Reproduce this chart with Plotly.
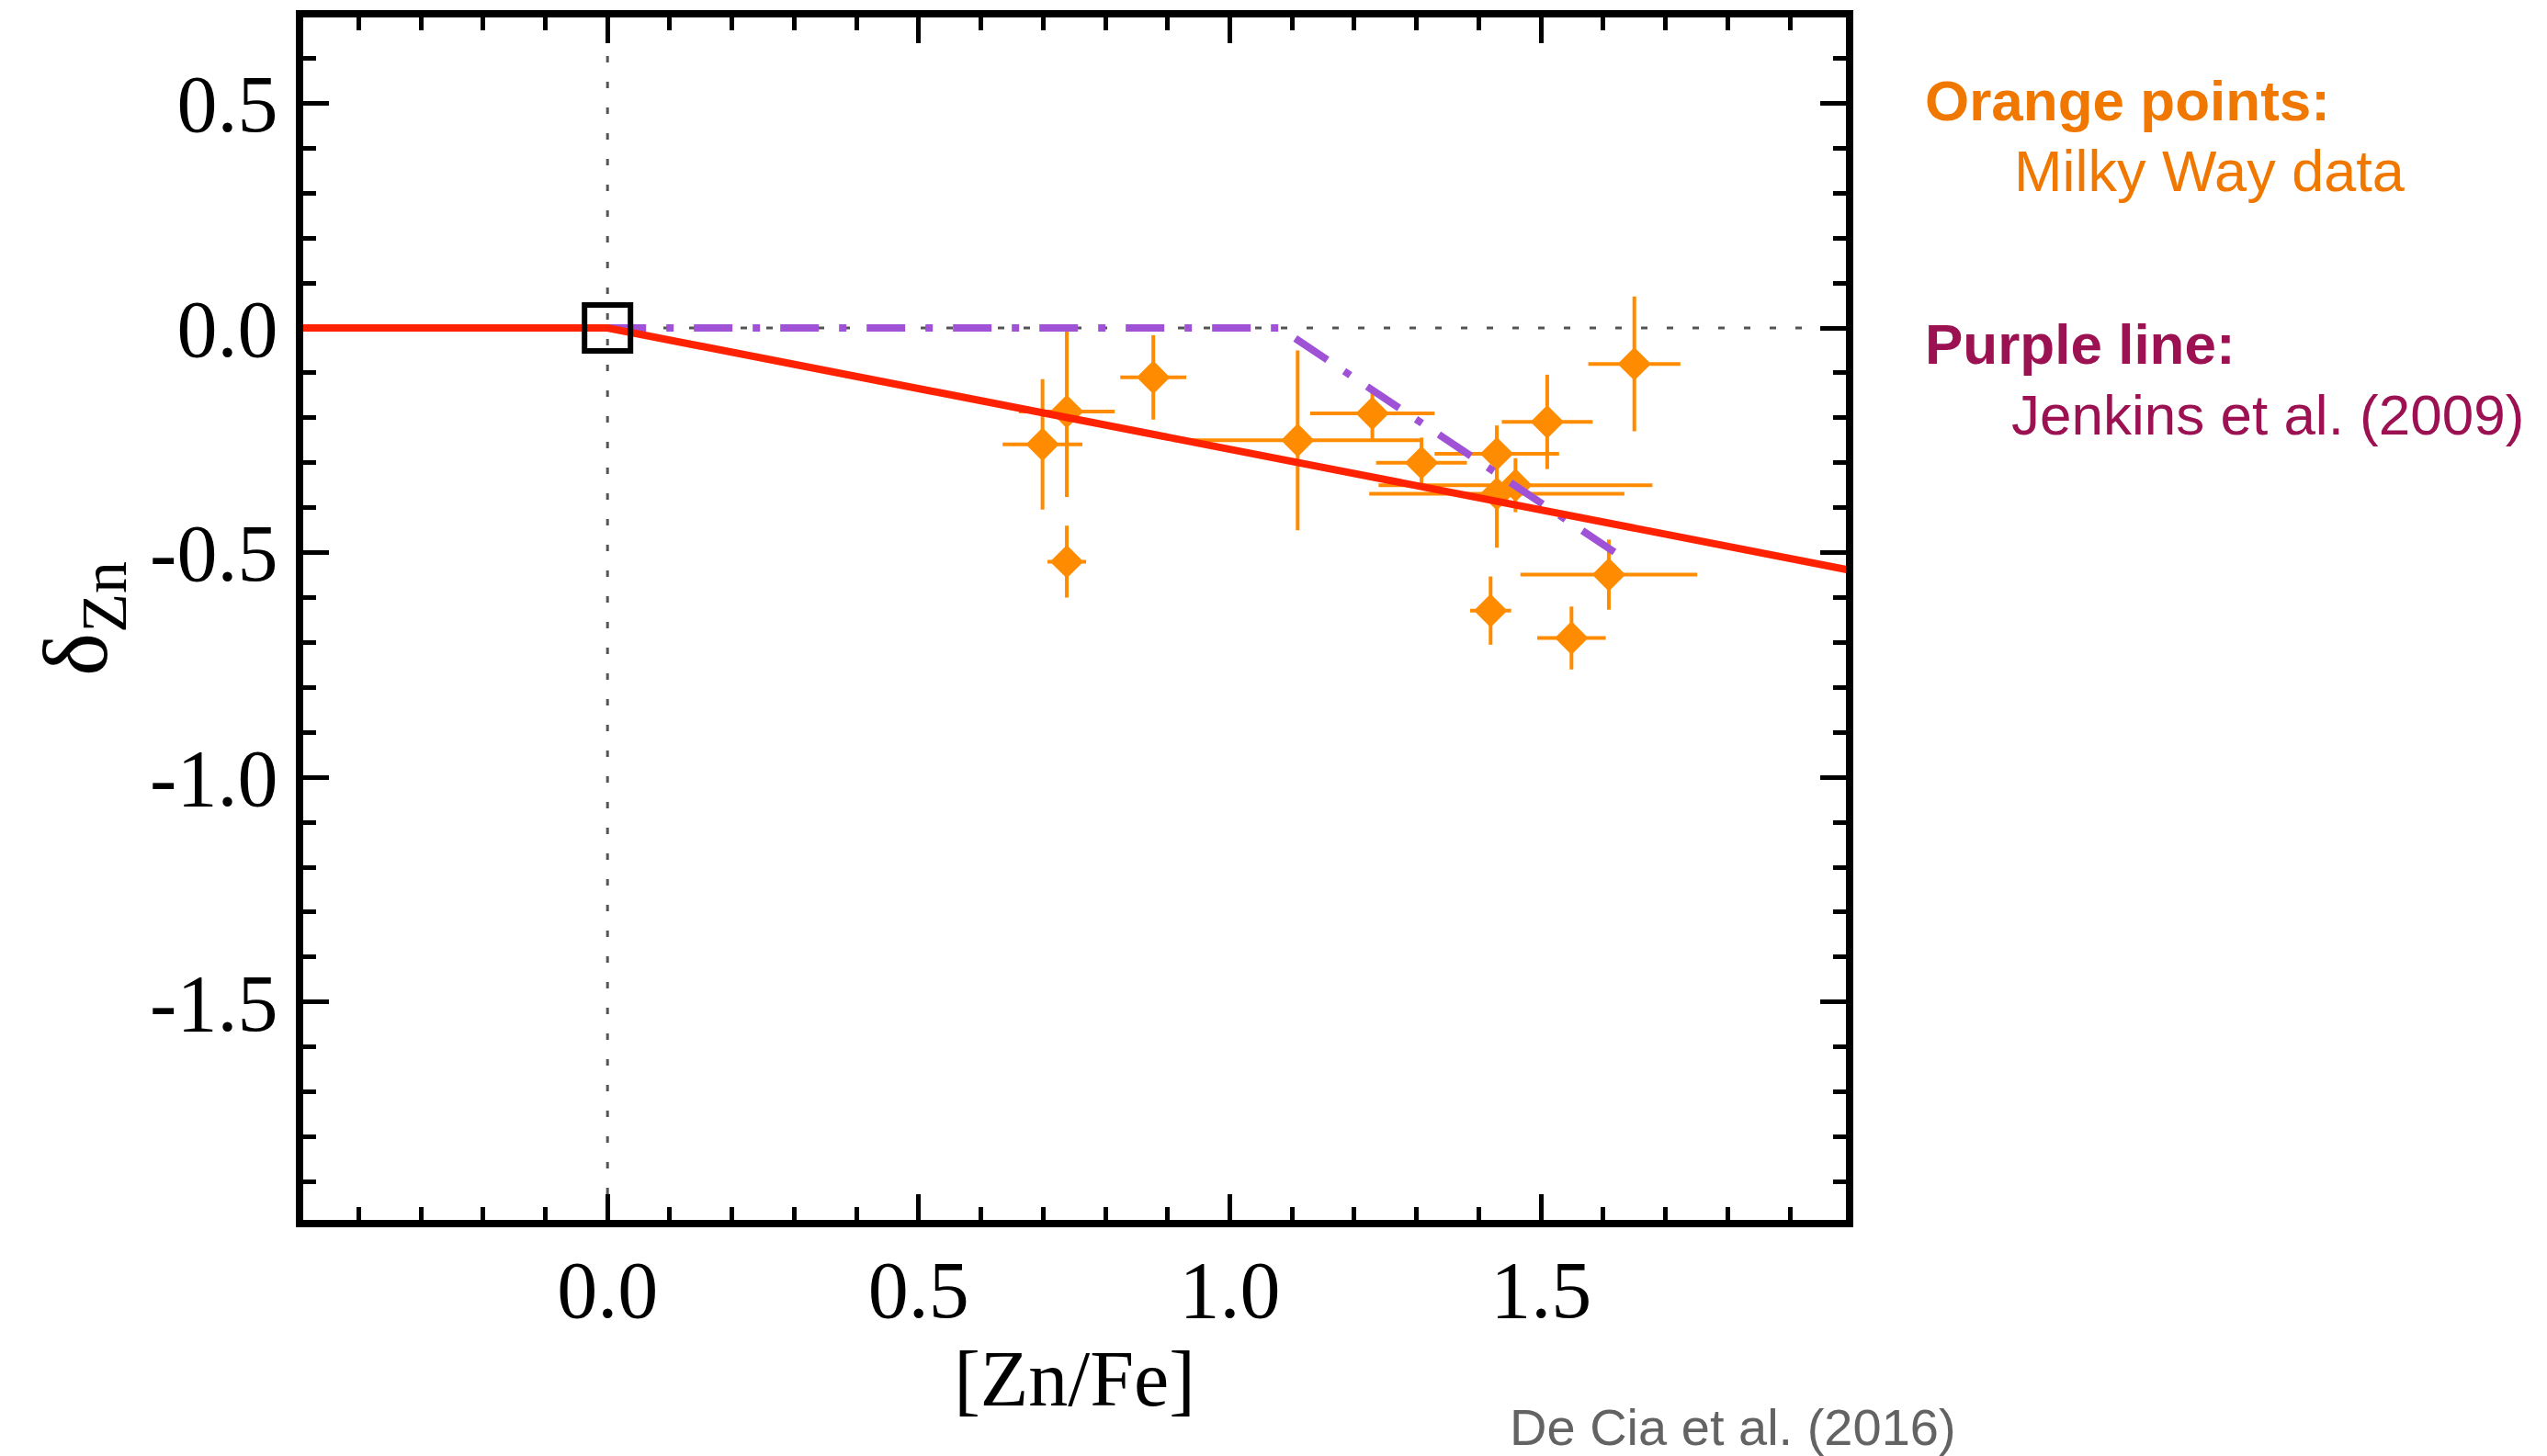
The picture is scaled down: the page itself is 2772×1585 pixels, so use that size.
import plotly.graph_objects as go

# ---- data ----
zn_fe = [0.699, 0.738, 0.738, 0.877, 1.109, 1.229, 1.308, 1.429, 1.459, 1.429, 1.510, 1.650, 1.609, 1.419, 1.549]
zn_fe_err = [0.064, 0.077, 0.031, 0.053, 0.200, 0.100, 0.073, 0.100, 0.220, 0.205, 0.073, 0.074, 0.142, 0.033, 0.055]
delta_zn = [-0.259, -0.186, -0.520, -0.110, -0.250, -0.190, -0.300, -0.280, -0.350, -0.369, -0.209, -0.080, -0.549, -0.629, -0.690]
delta_zn_err = [0.145, 0.190, 0.080, 0.094, 0.200, 0.057, 0.056, 0.063, 0.060, 0.120, 0.105, 0.150, 0.078, 0.076, 0.070]

# De Cia et al. (2016) relation (red)
fit_x = [-0.5, 0.0, 2.0]
fit_y = [0.0, 0.0, -0.54]
# Jenkins et al. (2009) relation (purple)
jenkins_x = [0.0, 1.08, 1.63]
jenkins_y = [0.0, 0.0, -0.51]
# reference point
ref_x = [0.0]
ref_y = [0.0]

x_tickvals = [0.0, 0.5, 1.0, 1.5]
x_ticktext = ["0.0", "0.5", "1.0", "1.5"]
y_tickvals = [0.5, 0.0, -0.5, -1.0, -1.5]
y_ticktext = ["0.5", "0.0", "-0.5", "-1.0", "-1.5"]

W, H = 2772, 1585
L, R, T, B = 330, 763, 19, 257
PW, PH = W - L - R, H - T - B

def px(xp):
    return (xp - L) / PW

def py(yp):
    return (H - B - yp) / PH

ORANGE = "#FF8C00"
fig = go.Figure()

fig.add_trace(go.Scatter(
    x=zn_fe, y=delta_zn, mode="markers",
    marker=dict(symbol="diamond", size=28, color=ORANGE, line=dict(width=0)),
    error_x=dict(type="data", array=zn_fe_err, color=ORANGE, thickness=4, width=0),
    error_y=dict(type="data", array=delta_zn_err, color=ORANGE, thickness=4, width=0),
    showlegend=False,
))
fig.add_trace(go.Scatter(
    x=jenkins_x, y=jenkins_y, mode="lines",
    line=dict(color="#A052D6", width=8, dash="42px,22px,8px,22px"),
    showlegend=False,
))
fig.add_trace(go.Scatter(
    x=fit_x, y=fit_y, mode="lines",
    line=dict(color="#FF2200", width=8),
    showlegend=False,
))
fig.add_trace(go.Scatter(
    x=ref_x, y=ref_y, mode="markers",
    marker=dict(symbol="square-open", size=50, color="black", line=dict(width=6, color="black")),
    showlegend=False,
))

# dotted zero lines
fig.add_shape(type="line", xref="x", yref="paper", x0=0, x1=0, y0=0, y1=1,
              line=dict(color="#555555", width=3, dash="7px,21px"), layer="below")
fig.add_shape(type="line", xref="paper", yref="y", x0=0, x1=1, y0=0, y1=0,
              line=dict(color="#555555", width=3, dash="7px,21px"), layer="below")

serif = "Liberation Serif, Times New Roman, serif"
sans = "Liberation Sans, Arial, Helvetica, sans-serif"

axis_common = dict(
    showline=True, linecolor="black", linewidth=8, mirror="allticks",
    ticks="inside", ticklen=28, tickwidth=5, tickcolor="black",
    showgrid=False, zeroline=False, layer="below traces",
    tickfont=dict(family=serif, size=88, color="black"),
    minor=dict(ticks="inside", ticklen=14, tickwidth=5, tickcolor="black", dtick=0.1, tick0=0, showgrid=False),
)

fig.update_xaxes(range=[-0.489, 1.99], tickmode="array", tickvals=x_tickvals, ticktext=x_ticktext,
                 ticklabelstandoff=-8,
                 title=dict(text="[Zn/Fe]", font=dict(family=serif, size=86, color="black"), standoff=12),
                 **axis_common)
fig.update_yaxes(range=[-1.985, 0.691], tickmode="array", tickvals=y_tickvals, ticktext=y_ticktext,
                 ticklabelstandoff=2,
                 title=dict(text="δ<sub>Zn</sub>", font=dict(family=serif, size=100, color="black"), standoff=16),
                 **axis_common)

def add_text(text, xl, base, size, color, bold=False):
    fig.add_annotation(
        text=("<b>%s</b>" % text) if bold else text,
        xref="paper", yref="paper", x=px(xl), y=py(base - 0.33 * size),
        xanchor="left", yanchor="middle", showarrow=False,
        font=dict(family=sans, size=size, color=color),
    )

add_text("Orange points:", 2093, 130, 62, "#F07800", bold=True)
add_text("Milky Way data", 2190, 207, 63, "#F07800")
add_text("Purple line:", 2093, 395, 62, "#9B1152", bold=True)
add_text("Jenkins et al. (2009)", 2187, 472, 62, "#9B1152")
add_text("De Cia et al. (2016)", 1641, 1572, 56, "#636363")

fig.update_layout(
    width=W, height=H,
    margin=dict(l=L, r=R, t=T, b=B, autoexpand=False),
    paper_bgcolor="white", plot_bgcolor="white",
)

fig.write_html("out.html")
